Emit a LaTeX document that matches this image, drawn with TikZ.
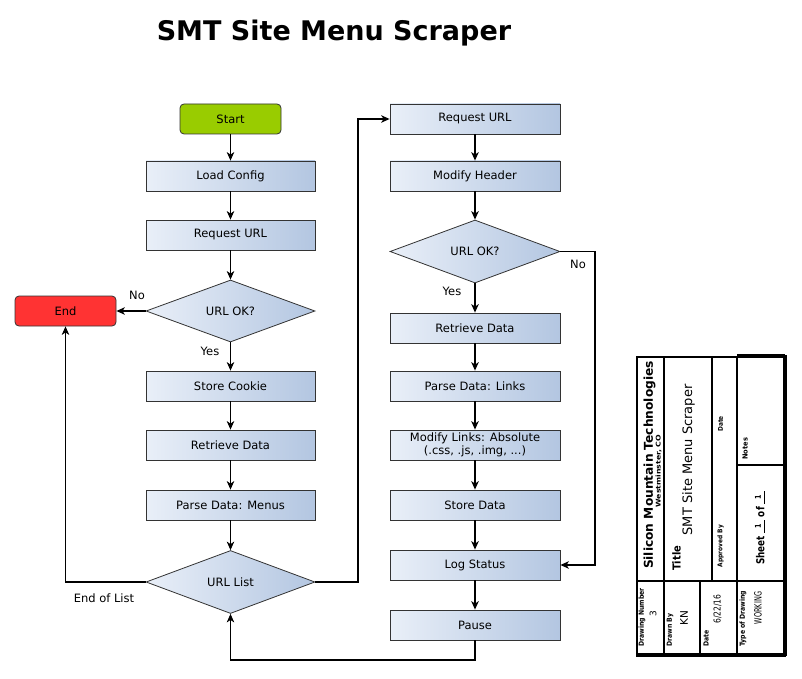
\documentclass[tikz,border=0pt]{standalone}
\usepackage{graphicx}
\usepackage{fontspec}
\setmainfont{DejaVu Sans}
\usetikzlibrary{shapes.geometric,arrows.meta}
\definecolor{boxl}{HTML}{E9EFF8}
\definecolor{boxr}{HTML}{B3C6E1}
\definecolor{startg}{HTML}{99CC00}
\definecolor{endr}{HTML}{FF3333}
\definecolor{edgec}{HTML}{333333}
\newcommand\sx[2]{\scalebox{#1}[1]{#2}}
\newcommand\blankno[1]{\rlap{\rule[-0.5pt]{16pt}{0.7pt}}\hbox to 16pt{\hss\raisebox{3.5pt}{\fontsize{8}{8}\selectfont #1}\hss}}
\begin{document}
\begin{tikzpicture}[x=1pt,y=-1pt,
  txt/.style={font=\fontsize{11.5}{13}\selectfont},
  proc/.style={txt, draw=edgec, line width=0.8pt, left color=boxl, right color=boxr,
    minimum width=169pt, minimum height=30pt, inner sep=1pt, align=center},
  term/.style={txt, draw=edgec, line width=0.8pt, rounded corners=4pt,
    minimum width=101pt, minimum height=30pt, inner sep=1pt},
  dec/.style={txt, diamond, draw=edgec, line width=0.8pt, left color=boxl, right color=boxr,
    minimum width=169pt, minimum height=62pt, inner sep=0pt, shape aspect=2.7},
  arr/.style={-{Stealth[length=8.5pt,width=7.5pt,inset=2.5pt]}, line width=1.1pt},
  lbl/.style={txt, inner sep=0pt},
  tbt/.style={rotate=90, inner sep=0pt},
  tbl/.style={tbt, anchor=west, font=\fontsize{7}{8}\bfseries},
]
\useasboundingbox (0,0) rectangle (802,679);

% title
\node[font=\fontsize{27}{30}\bfseries, anchor=base, inner sep=0pt] (title) at (334,41) {SMT Site Menu Scraper};

% left column
\node[term, fill=startg] (start) at (230.5,119) {Start};
\node[proc] (load) at (230.5,176) {Load Config};
\node[proc] (req1) at (230.5,235) {Request URL};
\node[dec] (ok1) at (230.5,311) {URL OK?};
\node[term, fill=endr] (end) at (65.5,311) {End};
\node[proc] (cookie) at (230.5,386) {Store Cookie};
\node[proc] (ret1) at (230.5,445) {Retrieve Data};
\node[proc] (parse1) at (230.5,505) {Parse Data: Menus};
\node[dec, minimum height=63pt] (list) at (230.5,582) {URL List};

% right column
\begin{scope}[proc/.append style={minimum width=170pt}]
\node[proc] (req2) at (475,119) {Request URL};
\node[proc] (hdr) at (475,176) {Modify Header};
\node[dec, minimum height=63pt, minimum width=170pt] (ok2) at (475,251.5) {URL OK?};
\node[proc] (ret2) at (475,328) {Retrieve Data};
\node[proc] (links) at (475,386) {Parse Data: Links};
\node[proc] (mod) at (475,445) {Modify Links: Absolute\\(.css, .js, .img, ...)};
\node[proc] (store) at (475,505) {Store Data};
\node[proc] (log) at (475,565) {Log Status};
\node[proc] (pause) at (475,625) {Pause};
\end{scope}

% connectors
\draw[arr] (start) -- (load);
\draw[arr] (load) -- (req1);
\draw[arr] (req1) -- (ok1);
\draw[arr] (ok1) -- (end);
\draw[arr] (ok1) -- (cookie);
\draw[arr] (cookie) -- (ret1);
\draw[arr] (ret1) -- (parse1);
\draw[arr] (parse1) -- (list);
\draw[arr] (list.west) -| (end.south);
\coordinate (c1) at (358,582);
\draw[arr] (list.east) -- (c1) |- (req2.west);
\draw[arr] (req2) -- (hdr);
\draw[arr] (hdr) -- (ok2);
\draw[arr] (ok2) -- (ret2);
\draw[arr] (ret2) -- (links);
\draw[arr] (links) -- (mod);
\draw[arr] (mod) -- (store);
\draw[arr] (store) -- (log);
\draw[arr] (log) -- (pause);
\coordinate (c2) at (595,251.5);
\draw[arr] (ok2.east) -- (c2) |- (log.east);
\coordinate (c3) at (475,660);
\draw[arr] (pause.south) -- (c3) -| (list.south);

% labels
\node[lbl] (no1) at (137,295) {No};
\node[lbl] (yes1) at (210,351) {Yes};
\node[lbl] (no2) at (578,264) {No};
\node[lbl] (yes2) at (452,291) {Yes};
\node[lbl] (eol) at (104,598) {End of List};

% title block frame
\draw[line width=2.2pt] (637,357) rectangle (785,655);
\draw[line width=3.2pt] (737,355.5) -- (785,355.5);
\draw[line width=3.2pt] (785,355) -- (785,656);
\draw[line width=3.2pt] (636,655) -- (786,655);
\draw[line width=2.6pt] (664,357) -- (664,655);
\draw[line width=2.6pt] (737,357) -- (737,655);
\draw[line width=1.8pt] (712,357) -- (712,581);
\draw[line width=1.8pt] (700,581) -- (700,655);
\draw[line width=1.8pt] (637,581) -- (785,581);
\draw[line width=1.8pt] (737,465) -- (785,465);

% title block texts
\node[tbt, font=\fontsize{12.2}{13}\bfseries] (co) at (649.5,465) {Silicon Mountain Technologies};
\node[tbt, font=\fontsize{6.5}{7}\bfseries] (city) at (658.5,471) {\sx{1.2}{Westminster, CO}};
\node[tbt, anchor=west, font=\fontsize{11}{12}\bfseries] (ttl) at (676.5,571) {\sx{0.9}{Title}};
\node[tbt, font=\fontsize{13}{14}\selectfont] (ttlv) at (688.5,460) {SMT Site Menu Scraper};
\node[tbt, font=\fontsize{6.5}{7}\bfseries] (dt1) at (720.5,424) {\sx{0.9}{Date}};
\node[tbt, font=\fontsize{6.5}{7}\bfseries] (appr) at (720.5,546) {\sx{0.9}{Approved By}};
\node[tbl] (notes) at (745,460) {\sx{0.95}{Notes}};
\node[tbt, font=\fontsize{11}{12}\bfseries] (sheet) at (760,528) {\sx{0.8}{Sheet \blankno{1} of \blankno{1}}};
\node[tbl] (dnum) at (642,647) {\sx{0.88}{Drawing Number}};
\node[tbt, font=\fontsize{9}{10}\selectfont] (dnumv) at (653,614) {3};
\node[tbl] (dby) at (670,647) {\sx{0.88}{Drawn By}};
\node[tbt, font=\fontsize{10.5}{11}\selectfont] (dbyv) at (684,618) {KN};
\node[tbl] (dt2) at (706,647) {\sx{0.88}{Date}};
\node[tbt, font=\fontsize{9.5}{10}\selectfont] (dt2v) at (717.5,609) {\sx{0.8}{6/22/16}};
\node[tbl] (tod) at (743,647) {\sx{0.88}{Type of Drawing}};
\node[tbt, font=\fontsize{10}{11}\selectfont] (todv) at (758,608) {\sx{0.65}{WORKING}};
\end{tikzpicture}
\end{document}
